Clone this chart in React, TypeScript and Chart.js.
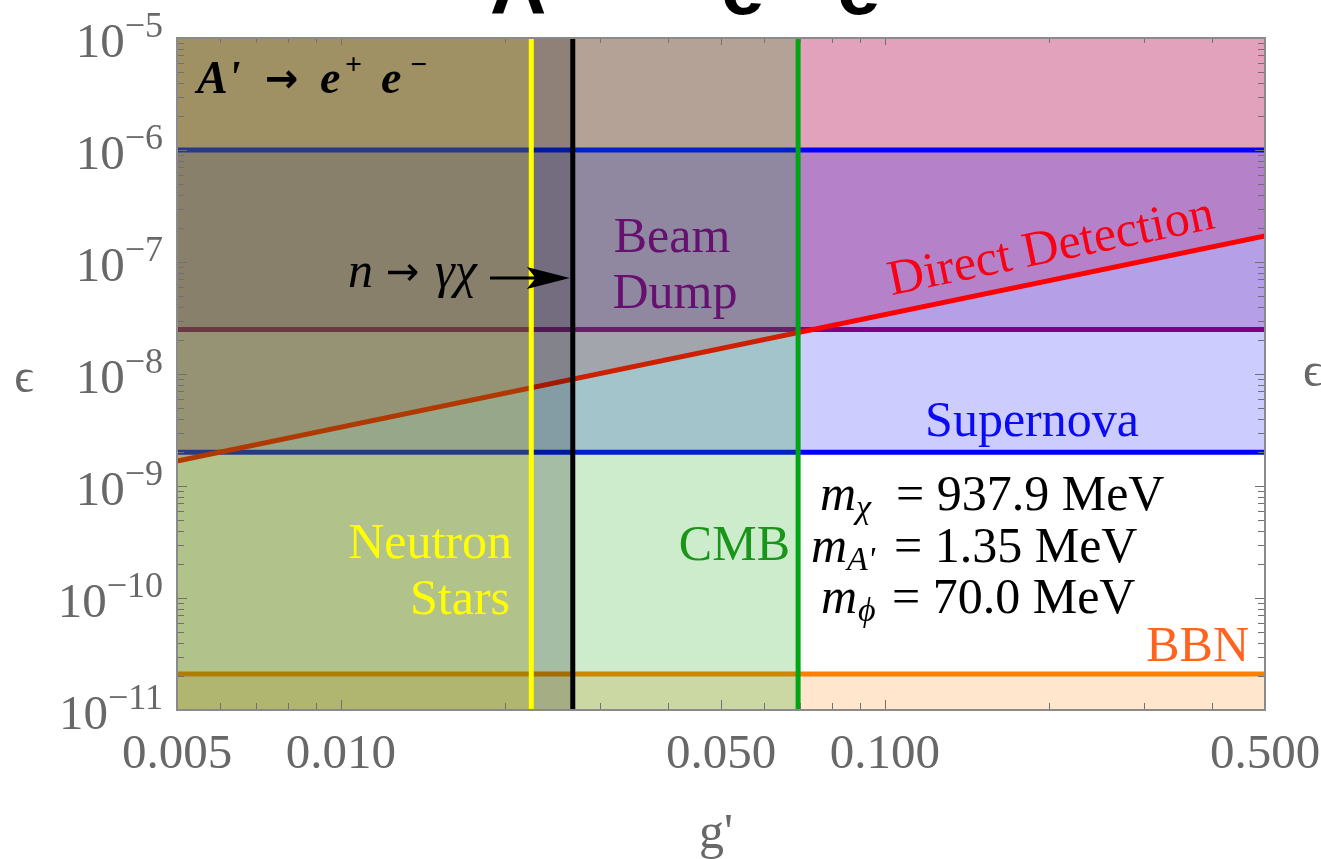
import { useEffect, useRef } from "react";
import { Chart, registerables } from "chart.js";

Chart.register(...registerables);

// ---- axis ranges ----
const gPrimeRange = [0.005, 0.5];
const epsilonRange = [1e-11, 1e-5];

// ---- constraint boundaries ----
const supernovaEpsilon = [2.0e-9, 1.0e-6];
const beamDumpEpsilon = 2.5e-8;
const bbnEpsilon = 2.1e-11;
const cmbGPrime = 0.0693;
const neutronStarGPrime = 0.0224;
const nGammaChiGPrime = 0.0267;
const directDetectionGPrime = [0.005, 0.5];
const directDetectionEpsilon = [1.67e-9, 1.71e-7];

// ---- ticks ----
const xMajorTicks = [0.005, 0.01, 0.05, 0.1, 0.5];
const xTickLabels = ["0.005", "0.010", "0.050", "0.100", "0.500"];
const xMinorTicks = [0.006, 0.007, 0.008, 0.009, 0.02, 0.03, 0.04, 0.06, 0.07, 0.08, 0.09, 0.2, 0.3, 0.4];
const yExponents = [-11, -10, -9, -8, -7, -6, -5];
const yMinorMultipliers = [2, 3, 4, 5, 6, 7, 8, 9];

const SERIF = '"Liberation Serif", "Times New Roman", "DejaVu Serif", serif';
const SANS = '"Liberation Sans", Arial, "DejaVu Sans", sans-serif';
const ARROW_FONT = '"DejaVu Sans", sans-serif';
const GREY_TEXT = "#686868";

const hLine = (y: number) => [
  { x: gPrimeRange[0], y },
  { x: gPrimeRange[1], y },
];
const vLine = (x: number) => [
  { x, y: epsilonRange[0] },
  { x, y: epsilonRange[1] },
];
const leftBlock = (x: number) => [
  { x: gPrimeRange[0], y: epsilonRange[1] },
  { x, y: epsilonRange[1] },
];
const ddPoints = directDetectionGPrime.map((g, i) => ({ x: g, y: directDetectionEpsilon[i] }));

const NONE = "rgba(0,0,0,0)";

function fillSet(data: any[], fill: any, color: string, order: number) {
  return {
    data,
    fill,
    backgroundColor: color,
    borderColor: NONE,
    borderWidth: 0,
    pointRadius: 0,
    order,
  };
}
function lineSet(data: any[], color: string, width: number, order: number) {
  return {
    data,
    fill: false,
    borderColor: color,
    borderWidth: width,
    pointRadius: 0,
    order,
  };
}

const decorPlugin = {
  id: "decor",
  afterDatasetsDraw(chart: any) {
    const { ctx, chartArea: a, scales } = chart;
    const xs = scales.x;
    const ys = scales.y;
    ctx.save();

    // ---- inside ticks ----
    ctx.strokeStyle = "#707070";
    ctx.lineWidth = 1;
    const seg = (x1: number, y1: number, x2: number, y2: number) => {
      ctx.beginPath();
      ctx.moveTo(x1, y1);
      ctx.lineTo(x2, y2);
      ctx.stroke();
    };
    const xTick = (v: number, len: number) => {
      const px = Math.round(xs.getPixelForValue(v)) + 0.5;
      seg(px, a.bottom, px, a.bottom - len);
      seg(px, a.top, px, a.top + len * 0.7);
    };
    const yTick = (v: number, len: number) => {
      const py = Math.round(ys.getPixelForValue(v)) + 0.5;
      seg(a.left, py, a.left + len, py);
      seg(a.right, py, a.right - len, py);
    };
    xMajorTicks.forEach((v) => xTick(v, 10));
    xMinorTicks.forEach((v) => xTick(v, 7));
    yExponents.forEach((e, i) => {
      yTick(Math.pow(10, e), 10);
      if (i < yExponents.length - 1) {
        yMinorMultipliers.forEach((m) => yTick(m * Math.pow(10, e), 7));
      }
    });

    // ---- frame ----
    ctx.strokeStyle = "#8a8a8a";
    ctx.lineWidth = 2;
    ctx.strokeRect(a.left, a.top, a.right - a.left, a.bottom - a.top);

    // ---- tick labels ----
    ctx.fillStyle = GREY_TEXT;
    ctx.textBaseline = "alphabetic";
    ctx.textAlign = "center";
    ctx.font = `49px ${SERIF}`;
    xMajorTicks.forEach((v, i) => {
      ctx.fillText(xTickLabels[i], xs.getPixelForValue(v), a.bottom + 58);
    });
    const labelRight = a.left - 14;
    yExponents.forEach((e) => {
      const py = ys.getPixelForValue(Math.pow(10, e));
      ctx.textAlign = "right";
      ctx.font = `36px ${SERIF}`;
      const sup = "\u2212" + Math.abs(e);
      const w = ctx.measureText(sup).width;
      ctx.fillText(sup, labelRight, py - 1);
      ctx.font = `49px ${SERIF}`;
      ctx.fillText("10", labelRight - w, py + 19);
    });

    // ---- axis titles ----
    ctx.font = `50px ${SERIF}`;
    ctx.textAlign = "center";
    ctx.fillText("g'", (a.left + a.right) / 2 - 5, 848);
    ctx.font = `48px ${SERIF}`;
    ctx.fillText("\u03F5", 24, 392);
    ctx.textAlign = "left";
    ctx.fillText("\u03F5", 1303, 386);

    // ---- cut-off plot title ----
    ctx.fillStyle = "#000";
    ctx.font = `bold 78px ${SANS}`;
    ctx.textAlign = "left";
    ctx.fillText("A'", 490, 14);
    ctx.fillText("e", 721, 14);
    ctx.fillText("e", 837, 14);
    ctx.font = `bold 78px ${ARROW_FONT}`;
    ctx.fillText("\u2192", 602, -4);
    ctx.font = `bold 50px ${SANS}`;
    ctx.fillText("+", 765, -18);
    ctx.fillText("\u2212", 881, -18);

    // ---- inset A' -> e+ e- ----
    ctx.font = `bold italic 46px ${SERIF}`;
    ctx.fillText("A'", 197, 93);
    ctx.fillText("e", 320, 93);
    ctx.fillText("e", 381, 93);
    ctx.font = `bold 40px ${ARROW_FONT}`;
    ctx.fillText("\u2192", 265, 92);
    ctx.font = `bold 30px ${SERIF}`;
    ctx.fillText("+", 345, 74);
    ctx.fillText("\u2212", 410, 74);

    // ---- region labels ----
    ctx.textAlign = "center";
    ctx.font = `50px ${SERIF}`;
    ctx.fillStyle = "rgb(102,16,112)";
    ctx.fillText("Beam", 672, 252);
    ctx.fillText("Dump", 675, 308);

    ctx.fillStyle = "rgb(10,10,245)";
    ctx.fillText("Supernova", 1032, 436);

    ctx.textAlign = "right";
    ctx.fillStyle = "rgb(255,255,0)";
    ctx.fillText("Neutron", 512, 558);
    ctx.fillText("Stars", 510, 614);

    ctx.fillStyle = "rgb(25,150,25)";
    ctx.fillText("CMB", 790, 560);

    ctx.fillStyle = "rgb(255,100,30)";
    ctx.fillText("BBN", 1249, 661);

    // Direct Detection, rotated along the red line
    const p0x = xs.getPixelForValue(ddPoints[0].x);
    const p0y = ys.getPixelForValue(ddPoints[0].y);
    const p1x = xs.getPixelForValue(ddPoints[1].x);
    const p1y = ys.getPixelForValue(ddPoints[1].y);
    const ang = Math.atan2(p1y - p0y, p1x - p0x);
    const cx = 1054;
    const cy = p0y + ((cx - p0x) / (p1x - p0x)) * (p1y - p0y) - 18;
    ctx.save();
    ctx.translate(cx, cy);
    ctx.rotate(ang);
    ctx.textAlign = "center";
    ctx.fillStyle = "rgb(250,0,20)";
    ctx.fillText("Direct Detection", 0, 0);
    ctx.restore();

    // ---- n -> gamma chi with arrow ----
    ctx.fillStyle = "#000";
    ctx.textAlign = "left";
    ctx.font = `italic 50px ${SERIF}`;
    ctx.fillText("n", 348, 287);
    ctx.font = `40px ${ARROW_FONT}`;
    ctx.fillText("\u2192", 386, 285);
    ctx.font = `italic 50px ${SERIF}`;
    ctx.fillText("\u03B3\u03C7", 435, 287);
    const tipX = xs.getPixelForValue(nGammaChiGPrime) - 3;
    const arrY = 278;
    ctx.strokeStyle = "#000";
    ctx.lineWidth = 3;
    seg(490, arrY, tipX - 30, arrY);
    ctx.beginPath();
    ctx.moveTo(tipX, arrY);
    ctx.lineTo(tipX - 43, arrY - 11);
    ctx.lineTo(tipX - 34, arrY);
    ctx.lineTo(tipX - 43, arrY + 11);
    ctx.closePath();
    ctx.fill();

    // ---- mass parameters ----
    const massLine = (mx: number, sub: string, subX: number, rest: string, restX: number, base: number) => {
      ctx.font = `italic 50px ${SERIF}`;
      ctx.fillText("m", mx, base);
      ctx.font = `italic 34px ${SERIF}`;
      ctx.fillText(sub, subX, base + 8);
      ctx.font = `50px ${SERIF}`;
      ctx.fillText(rest, restX, base);
    };
    massLine(820, "\u03C7", 856, "= 937.9 MeV", 896, 510);
    massLine(811, "A'", 847, "= 1.35 MeV", 894, 562);
    massLine(821, "\u03D5", 858, "= 70.0 MeV", 892, 613);

    ctx.restore();
  },
};

export default function App() {
  const ref = useRef<HTMLCanvasElement | null>(null);

  useEffect(() => {
    if (!ref.current) return;
    const datasets: any[] = [
      // bottom layer fills
      fillSet(ddPoints, "end", "rgba(255,0,0,0.19)", 100),
      fillSet(hLine(beamDumpEpsilon), "end", "rgba(125,0,115,0.22)", 99),
      fillSet(hLine(supernovaEpsilon[1]), { value: supernovaEpsilon[0] }, "rgba(0,0,255,0.2)", 98),
      fillSet(hLine(bbnEpsilon), "start", "rgba(255,130,0,0.2)", 97),
      // horizontal boundary lines
      lineSet(hLine(supernovaEpsilon[1]), "rgb(0,0,255)", 5, 96),
      lineSet(hLine(supernovaEpsilon[0]), "rgb(0,0,255)", 5, 95),
      lineSet(hLine(beamDumpEpsilon), "rgb(128,0,128)", 5, 94),
      lineSet(hLine(bbnEpsilon), "rgb(255,128,0)", 5, 93),
      lineSet(ddPoints, "rgb(255,0,0)", 5, 92),
      // vertical-limit fills
      fillSet(leftBlock(cmbGPrime), "start", "rgba(0,160,0,0.2)", 91),
      fillSet(leftBlock(nGammaChiGPrime), "start", "rgba(0,0,0,0.2)", 90),
      fillSet(leftBlock(neutronStarGPrime), "start", "rgba(240,230,0,0.16)", 89),
      // vertical lines
      lineSet(vLine(neutronStarGPrime), "rgb(255,255,0)", 5, 88),
      lineSet(vLine(nGammaChiGPrime), "rgb(0,0,0)", 5, 87),
      lineSet(vLine(cmbGPrime), "rgb(0,165,20)", 5, 86),
    ];

    const chart = new Chart(ref.current, {
      type: "line",
      data: { datasets },
      options: {
        responsive: false,
        devicePixelRatio: 1,
        animation: false,
        events: [],
        layout: { padding: { left: 177, right: 1321 - 1265, top: 38, bottom: 859 - 710 } },
        plugins: { legend: { display: false }, tooltip: { enabled: false } },
        elements: { line: { tension: 0 } },
        scales: {
          x: { type: "logarithmic", min: gPrimeRange[0], max: gPrimeRange[1], display: false },
          y: { type: "logarithmic", min: epsilonRange[0], max: epsilonRange[1], display: false },
        },
      },
      plugins: [decorPlugin],
    });
    return () => chart.destroy();
  }, []);

  return (
    <div style={{ position: "absolute", left: 0, top: 0, width: 1321, height: 859, overflow: "hidden", background: "#fff" }}>
      <canvas ref={ref} width={1321} height={859} style={{ display: "block", width: 1321, height: 859 }} />
    </div>
  );
}
